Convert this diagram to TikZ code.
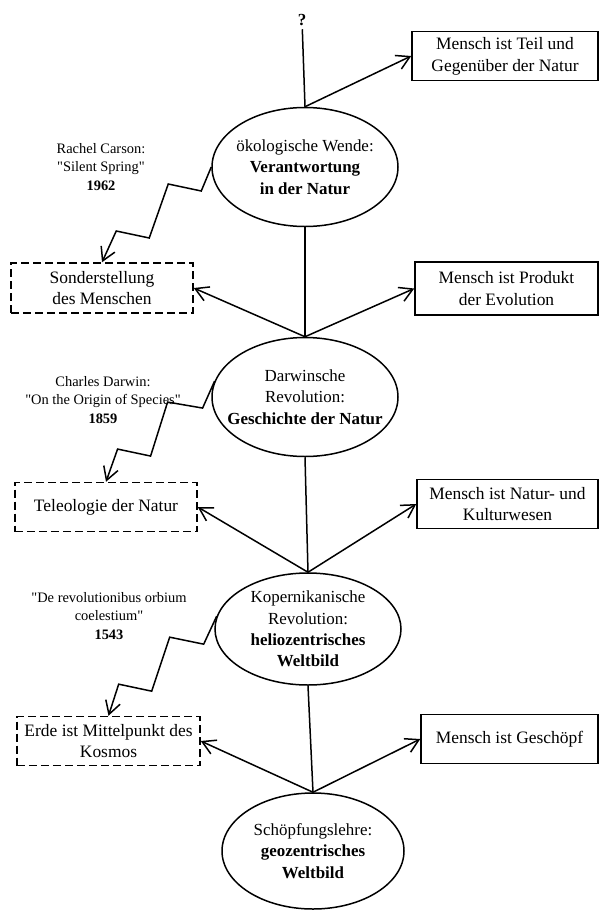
\documentclass[tikz,border=0pt]{standalone}
\usepackage{fontspec}
\setmainfont{Liberation Serif}
\usetikzlibrary{shapes.geometric,arrows.meta}

\newcommand{\qt}{\textquotedbl}

\tikzset{
    stage/.style={draw, ellipse, line width=1.5bp, inner sep=0pt,
        minimum width=186bp, minimum height=119bp},
    stagetext/.style={align=center, inner sep=0pt, font=\fontsize{17}{21.5}\selectfont},
    view/.style={draw, rectangle, line width=1.5bp, inner sep=0pt, align=center,
        minimum width=182bp, minimum height=49bp, font=\fontsize{17.5}{22}\selectfont},
    oldview/.style={view, dash pattern=on 8bp off 4bp},
    source/.style={align=center, font=\fontsize{14.5}{19}\selectfont},
    link/.style={line width=1.5bp},
    lead/.style={line width=1.5bp, -{Straight Barb[length=13bp,width=15bp]}}
}

\begin{document}
\begin{tikzpicture}[x=1bp, y=-1bp]
    \useasboundingbox (0,0) rectangle (600,911);

    \node[font=\fontsize{17}{18}\selectfont\bfseries] (q) at (302,20) {?};

    \node[stage, label={[stagetext]center:ökologische Wende:\\\textbf{Verantwortung}\\\textbf{in der Natur}}] (oeko) at (305,167) {};
    \node[stage, label={[stagetext]center:Darwinsche\\Revolution:\\\textbf{Geschichte der Natur}}] (darwin) at (305,397) {};
    \node[stage, minimum height=112bp, label={[stagetext]center:Kopernikanische\\Revolution:\\\textbf{heliozentrisches}\\\textbf{Weltbild}}] (kopernikus) at (308,629) {};
    \node[stage, minimum width=182bp, minimum height=116bp, label={[stagetext]center:Schöpfungslehre:\\\textbf{geozentrisches}\\\textbf{Weltbild}}] (schoepfung) at (313,851) {};

    \node[view, minimum width=186bp] (teil) at (505,56) {Mensch ist Teil und\\Gegenüber der Natur};
    \node[view, minimum width=183bp, minimum height=53bp] (produkt) at (506.5,288.5) {Mensch ist Produkt\\der Evolution};
    \node[view, minimum width=181bp] (kultur) at (507.5,504) {Mensch ist Natur- und\\Kulturwesen};
    \node[view, minimum width=177bp] (geschoepf) at (509.5,739) {Mensch ist Geschöpf};

    \node[oldview, minimum height=50bp] (sonder) at (102,288) {Sonderstellung\\des Menschen};
    \node[oldview] (teleo) at (106,507) {Teleologie der Natur};
    \node[oldview, minimum width=183bp] (mitte) at (108.5,741) {Erde ist Mittelpunkt des\\Kosmos};

    \node[source] (carson) at (101,167) {Rachel Carson:\\\qt Silent Spring\qt\\\textbf{1962}};
    \node[source] (origin) at (103,400) {Charles Darwin:\\\qt On the Origin of Species\qt\\\textbf{1859}};
    \node[source] (orbium) at (109,616) {\qt De revolutionibus orbium\\coelestium\qt\\\textbf{1543}};

    \draw[link] (q) -- (oeko.north);
    \draw[link] (oeko.south) -- (darwin.north);
    \draw[link] (darwin.south) -- (kopernikus.north);
    \draw[link] (kopernikus.south) -- (schoepfung.north);

    \draw[lead] (oeko.north) -- (teil.west);
    \draw[lead] (darwin.north) -- (produkt.west);
    \draw[lead] (darwin.north) -- (sonder.east);
    \draw[lead] (kopernikus.north) -- (kultur.west);
    \draw[lead] (kopernikus.north) -- (teleo.east);
    \draw[lead] (schoepfung.north) -- (geschoepf.west);
    \draw[lead] (schoepfung.north) -- (mitte.east);

    \draw[lead] (oeko.west) -- ++(-10,24) -- ++(-33,-7) -- ++(-19,54) -- ++(-33,-7) -- (sonder.north);
    \draw[lead] (darwin.170) -- ++(-12,27) -- ++(-35,-6) -- ++(-17,54) -- ++(-33,-7) -- (teleo.north);
    \draw[lead] (kopernikus.172) -- ++(-13,28) -- ++(-34,-7) -- ++(-18,54) -- ++(-33,-7) -- (mitte.north);
\end{tikzpicture}
\end{document}
